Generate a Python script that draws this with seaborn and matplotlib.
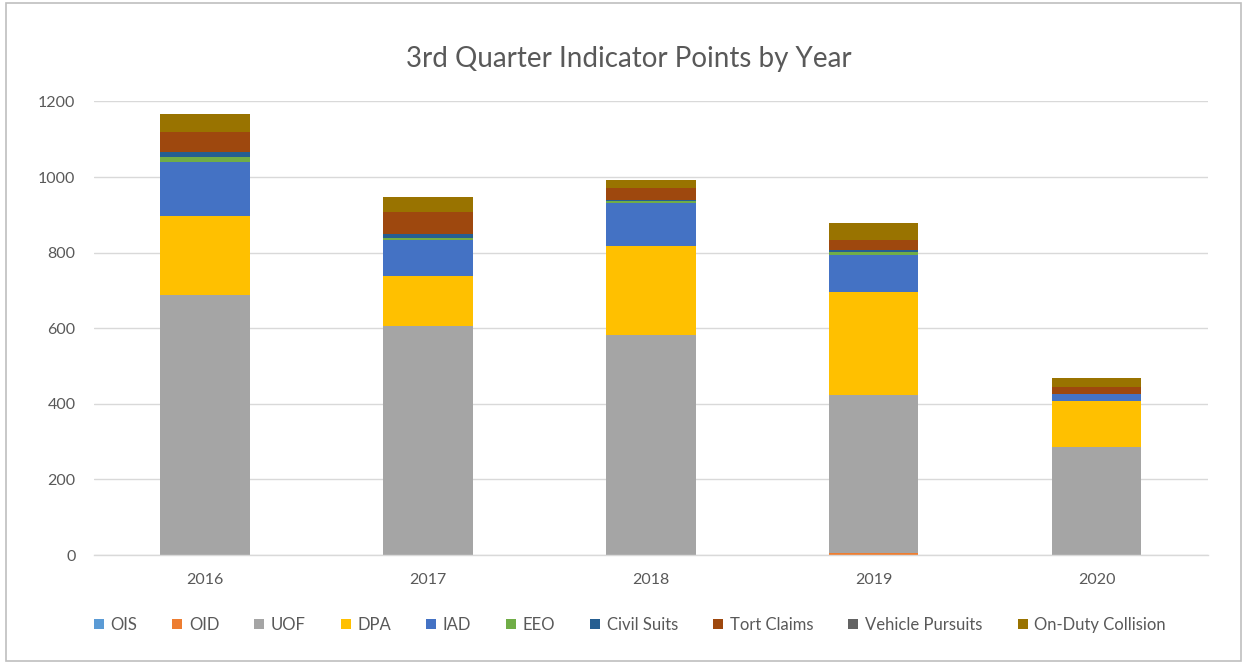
import matplotlib
matplotlib.use("Agg")
import matplotlib.pyplot as plt
from matplotlib.patches import Patch, FancyBboxPatch
import numpy as np
import pandas as pd
import seaborn as sns

years = ["2016", "2017", "2018", "2019", "2020"]
series_names = ["OIS", "OID", "UOF", "DPA", "IAD", "EEO", "Civil Suits",
                "Tort Claims", "Vehicle Pursuits", "On-Duty Collision"]
ois = [0, 0, 0, 0, 0]
oid = [0, 0, 0, 5, 0]
uof = [687, 606, 581, 418, 285]
dpa = [209, 132, 236, 274, 122]
iad = [143, 95, 114, 97, 20]
eeo = [15, 5, 5, 8, 0]
civil = [13, 10, 3, 6, 0]
tort = [51, 60, 33, 25, 18]
vehicle = [0, 0, 0, 0, 0]
collision = [48, 38, 19, 46, 22]
colors = ["#5B9BD5", "#ED7D31", "#A5A5A5", "#FFC000", "#4472C4", "#70AD47",
          "#255E91", "#9E480E", "#636363", "#997300"]

values = [ois, oid, uof, dpa, iad, eeo, civil, tort, vehicle, collision]

sns.set_theme(style="white")
plt.rcParams["font.family"] = ["Lato", "DejaVu Sans"]

fig = plt.figure(figsize=(12.47, 6.69), dpi=100)
ax = fig.add_axes([0.075, 0.1704, 0.894, 0.678])

bottom = np.zeros(len(years))
for name, vals, col in zip(series_names, values, colors):
    df = pd.DataFrame({"year": years, "value": vals})
    sns.barplot(data=df, x="year", y="value", order=years, color=col,
                bottom=bottom.copy(), width=0.4, linewidth=0, ax=ax,
                saturation=1, errorbar=None)
    bottom += np.array(vals, dtype=float)

ax.set_ylim(0, 1200)
ax.set_xlim(-0.5, 4.5)
ax.set_yticks(range(0, 1201, 200))
ax.yaxis.grid(True, color="#D9D9D9", linewidth=1)
ax.set_axisbelow(True)
for s in ["top", "right", "left"]:
    ax.spines[s].set_visible(False)
ax.spines["bottom"].set_color("#D9D9D9")
ax.spines["bottom"].set_linewidth(1)
ax.set_xlabel("")
ax.set_ylabel("")
ax.tick_params(axis="both", length=0, labelsize=11.5, labelcolor="#595959")
ax.tick_params(axis="y", pad=13)
ax.tick_params(axis="x", pad=13)

fig.text(0.5045, 0.912, "3rd Quarter Indicator Points by Year", ha="center",
         va="center", fontsize=20, color="#595959")

handles = [Patch(facecolor=c, edgecolor="none", label=n)
           for n, c in zip(series_names, colors)]
fig.legend(handles=handles, loc="center", bbox_to_anchor=(0.505, 1 - 625 / 669),
           ncol=10, frameon=False, fontsize=12, handlelength=0.6,
           handleheight=0.6, handletextpad=0.4, columnspacing=2.1,
           labelcolor="#595959")

border = FancyBboxPatch((0.005, 0.012), 0.99, 0.983, transform=fig.transFigure,
                        boxstyle="square,pad=0", facecolor="none",
                        edgecolor="#BFBFBF", linewidth=1.2)
fig.patches.append(border)

fig.savefig("out.png", dpi=100)
